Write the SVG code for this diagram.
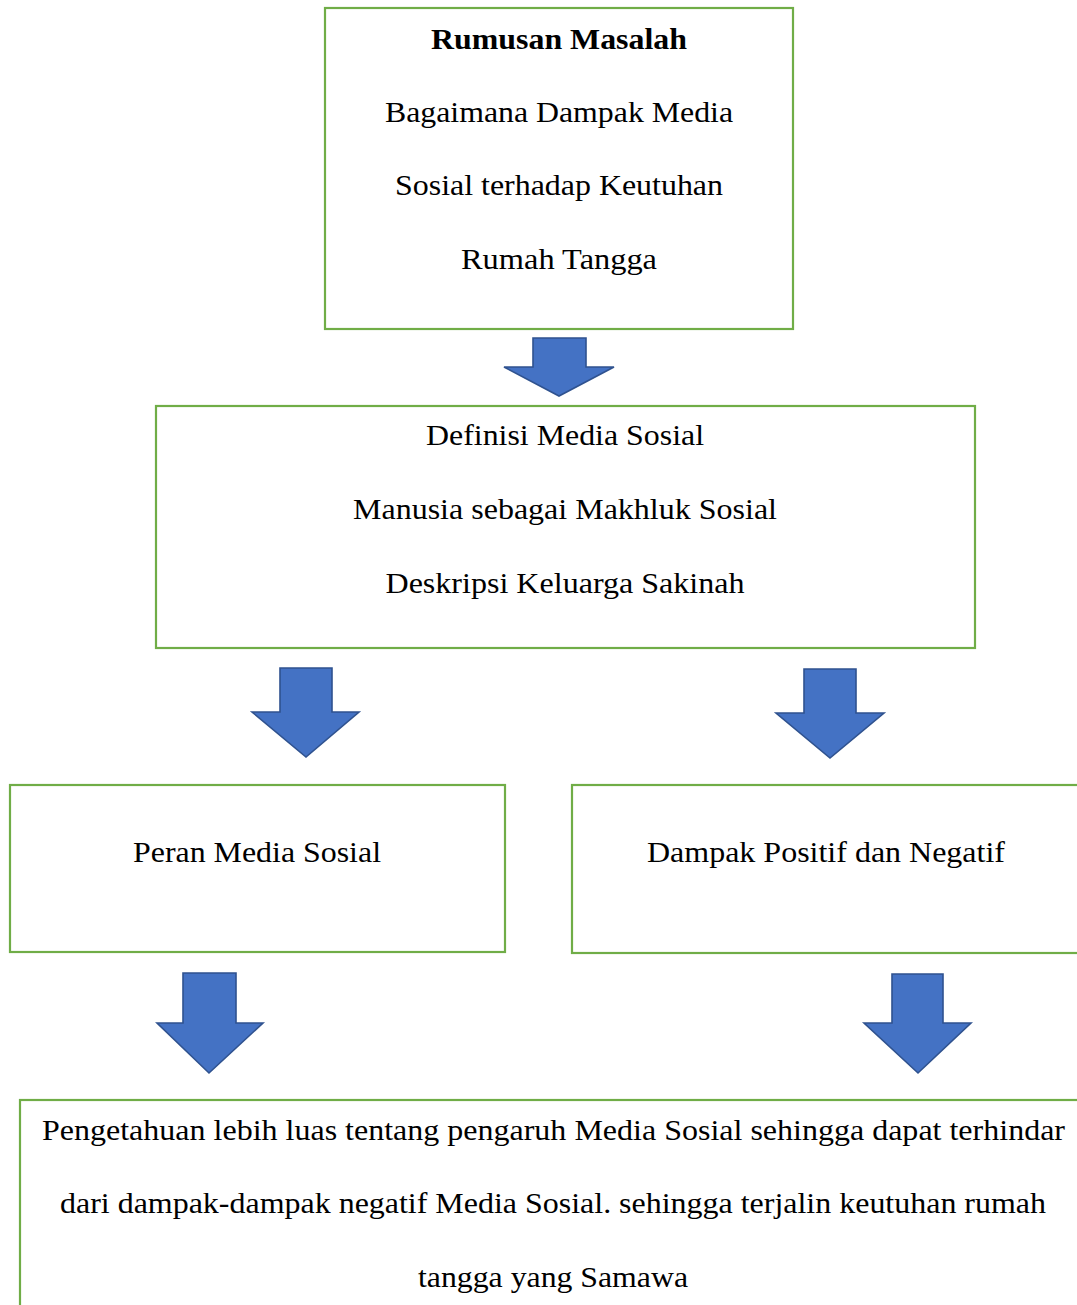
<svg xmlns="http://www.w3.org/2000/svg" width="1077" height="1305" viewBox="0 0 1077 1305">
<style>
.box{fill:#fff;stroke:#70AD47;stroke-width:2.2}
.arr{fill:#4472C4;stroke:#2F528F;stroke-width:1.6;stroke-linejoin:miter}
text{font-family:"Liberation Serif","Times New Roman",serif;font-size:30px;fill:#000;text-anchor:middle}
.b{font-weight:bold}
</style>
<rect width="1077" height="1305" fill="#fff"/>
<g id="connectors">
<polygon class="arr" points="533,338 586,338 586,367 614,367 559,396 504,367 533,367"/>
<polygon class="arr" points="280,668 332,668 332,712 359,712 306,757 252,712 280,712"/>
<polygon class="arr" points="804,669 856,669 856,713 884,713 830,758 776,713 804,713"/>
<polygon class="arr" points="183,973 236,973 236,1023 263,1023 209,1073 157,1023 183,1023"/>
<polygon class="arr" points="892,974 943,974 943,1023 971,1023 918,1073 864,1023 892,1023"/>
</g>
<g id="node-rumusan">
<rect class="box" x="325" y="8" width="468" height="321"/>
<text class="b" x="559" y="49" textLength="256" lengthAdjust="spacingAndGlyphs">Rumusan Masalah</text>
<text x="559" y="122" textLength="348" lengthAdjust="spacingAndGlyphs">Bagaimana Dampak Media</text>
<text x="559" y="195" textLength="328" lengthAdjust="spacingAndGlyphs">Sosial terhadap Keutuhan</text>
<text x="559" y="269" textLength="196" lengthAdjust="spacingAndGlyphs">Rumah Tangga</text>
</g>
<g id="node-definisi">
<rect class="box" x="156" y="406" width="819" height="242"/>
<text x="565" y="445" textLength="278" lengthAdjust="spacingAndGlyphs">Definisi Media Sosial</text>
<text x="565" y="519" textLength="424" lengthAdjust="spacingAndGlyphs">Manusia sebagai Makhluk Sosial</text>
<text x="565" y="593" textLength="359" lengthAdjust="spacingAndGlyphs">Deskripsi Keluarga Sakinah</text>
</g>
<g id="node-peran">
<rect class="box" x="10" y="785" width="495" height="167"/>
<text x="257" y="862" textLength="248" lengthAdjust="spacingAndGlyphs">Peran Media Sosial</text>
</g>
<g id="node-dampak">
<rect class="box" x="572" y="785" width="520" height="168"/>
<text x="826" y="862" textLength="358" lengthAdjust="spacingAndGlyphs">Dampak Positif dan Negatif</text>
</g>
<g id="node-pengetahuan">
<rect class="box" x="20" y="1100" width="1072" height="230"/>
<text x="553.5" y="1140" textLength="1023" lengthAdjust="spacingAndGlyphs">Pengetahuan lebih luas tentang pengaruh Media Sosial sehingga dapat terhindar</text>
<text x="553" y="1213" textLength="986" lengthAdjust="spacingAndGlyphs">dari dampak-dampak negatif Media Sosial. sehingga terjalin keutuhan rumah</text>
<text x="553" y="1287" textLength="270" lengthAdjust="spacingAndGlyphs">tangga yang Samawa</text>
</g>
</svg>
